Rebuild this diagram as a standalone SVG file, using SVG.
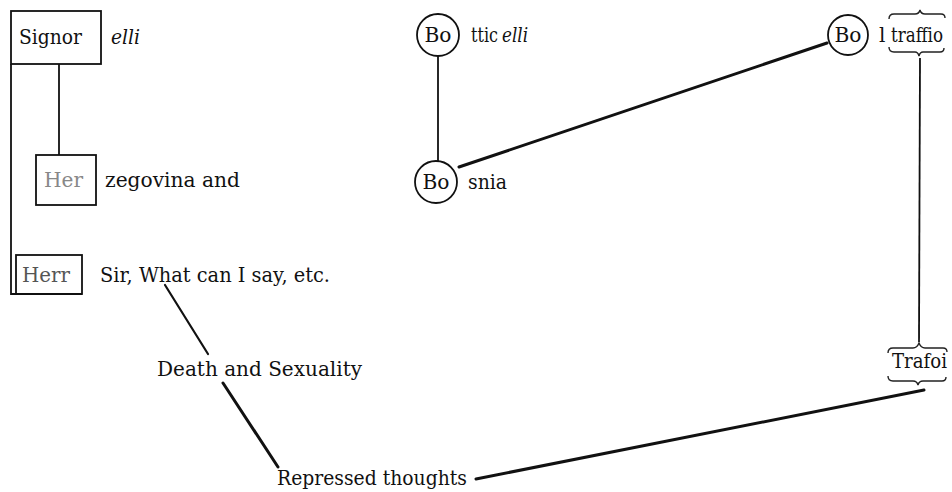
<svg xmlns="http://www.w3.org/2000/svg" width="952" height="492" viewBox="0 0 952 492">
<style>
text{font-family:"DejaVu Serif","Liberation Serif",serif;font-size:20px;fill:#111}
.it{font-style:italic}
.box{fill:none;stroke:#111;stroke-width:1.8}
.ln{fill:none;stroke:#111;stroke-width:1.8}
.thick{fill:none;stroke:#111;stroke-width:3;stroke-linecap:round}
.brace{fill:none;stroke:#222;stroke-width:1.4}
</style>
<rect width="952" height="492" fill="#fff"/>
<g id="connectors">
<path class="ln" d="M11,64 V294 H82"/>
<line class="ln" x1="59" y1="64" x2="59" y2="155"/>
<line class="ln" x1="438" y1="56" x2="438" y2="161"/>
<line class="thick" x1="459" y1="167" x2="827" y2="43"/>
<line class="ln" x1="920" y1="58" x2="919" y2="342"/>
<line class="thick" x1="165" y1="285" x2="208" y2="354" style="stroke-width:2.2"/>
<line class="thick" x1="223" y1="383" x2="278" y2="467"/>
<line class="thick" x1="476" y1="479" x2="924" y2="390"/>
</g>
<g id="signor">
<rect class="box" x="11" y="11" width="90" height="53"/>
<text x="19" y="44" textLength="63" lengthAdjust="spacingAndGlyphs">Signor</text>
<text class="it" x="111" y="44" textLength="29" lengthAdjust="spacingAndGlyphs">elli</text>
</g>
<g id="her">
<rect class="box" x="36" y="155" width="60" height="50"/>
<text x="44" y="187" textLength="39" lengthAdjust="spacingAndGlyphs" style="fill:#888">Her</text>
<text x="105" y="187" textLength="135" lengthAdjust="spacingAndGlyphs">zegovina  and</text>
</g>
<g id="herr">
<rect class="box" x="16" y="255" width="66" height="39"/>
<text x="22" y="282" textLength="48" lengthAdjust="spacingAndGlyphs" style="fill:#555">Herr</text>
<text x="100" y="282" textLength="230" lengthAdjust="spacingAndGlyphs">Sir, What can I say, etc.</text>
</g>
<g id="death">
<text x="157" y="376" textLength="205" lengthAdjust="spacingAndGlyphs">Death  and  Sexuality</text>
</g>
<g id="repressed">
<text x="277" y="485" textLength="190" lengthAdjust="spacingAndGlyphs">Repressed  thoughts</text>
</g>
<g id="botticelli">
<circle class="box" cx="438" cy="35" r="21"/>
<text x="438" y="42" text-anchor="middle" textLength="27" lengthAdjust="spacingAndGlyphs">Bo</text>
<text x="471" y="42" textLength="27" lengthAdjust="spacingAndGlyphs">ttic</text>
<text class="it" x="502" y="42" textLength="26" lengthAdjust="spacingAndGlyphs">elli</text>
</g>
<g id="bosnia">
<circle class="box" cx="436" cy="182" r="21"/>
<text x="436" y="189" text-anchor="middle" textLength="27" lengthAdjust="spacingAndGlyphs">Bo</text>
<text x="468" y="189" textLength="39" lengthAdjust="spacingAndGlyphs">snia</text>
</g>
<g id="boltraffio">
<circle class="box" cx="848" cy="35" r="20"/>
<text x="848" y="42" text-anchor="middle" textLength="27" lengthAdjust="spacingAndGlyphs">Bo</text>
<text x="879" y="42">l</text>
<text x="891" y="42" textLength="52" lengthAdjust="spacingAndGlyphs">traffio</text>
<path class="brace" d="M889,19 q0,-5 5,-5 h21 q4,0 5,-4 q1,4 5,4 h16 q4,0 4,4"/>
<path class="brace" d="M889,47 q0,5 5,5 h21 q3,0 4,4 q1,-4 4,-4 h17 q4,0 4,-4"/>
</g>
<g id="trafoi">
<path class="brace" d="M888,353 q0,-5 5,-5 h20 q4,0 6,-5 q2,5 6,5 h18 q4,0 4,4"/>
<text x="892" y="368" textLength="55" lengthAdjust="spacingAndGlyphs">Trafoi</text>
<path class="brace" d="M888,376 q0,5 5,5 h20 q4,0 5,4 q1,-4 5,-4 h19 q4,0 4,-4"/>
</g>
</svg>
